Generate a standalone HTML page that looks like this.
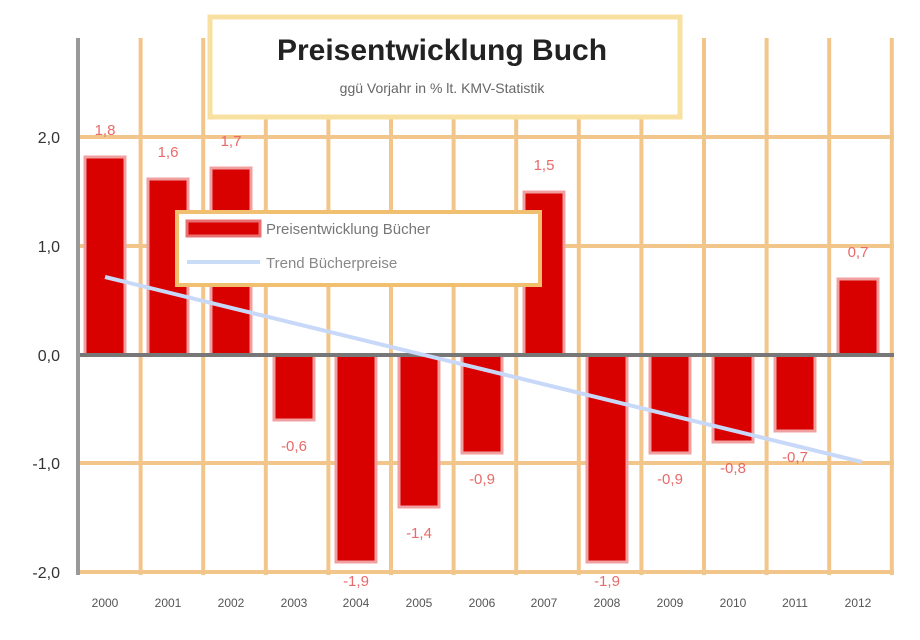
<!DOCTYPE html>
<html><head><meta charset="utf-8"><style>
html,body{margin:0;padding:0;background:#fff}
svg{display:block}
text{font-family:"Liberation Sans",sans-serif}
</style></head><body>
<svg width="920" height="640" xmlns="http://www.w3.org/2000/svg">
<rect width="920" height="640" fill="#fff"/>
<g stroke="#f2c58a" stroke-width="4">
<line x1="140.6" y1="38" x2="140.6" y2="575"/><line x1="203.2" y1="38" x2="203.2" y2="575"/>
<line x1="265.8" y1="38" x2="265.8" y2="575"/><line x1="328.4" y1="38" x2="328.4" y2="575"/>
<line x1="391" y1="38" x2="391" y2="575"/><line x1="453.6" y1="38" x2="453.6" y2="575"/>
<line x1="516.2" y1="38" x2="516.2" y2="575"/><line x1="578.8" y1="38" x2="578.8" y2="575"/>
<line x1="641.4" y1="38" x2="641.4" y2="575"/><line x1="704" y1="38" x2="704" y2="575"/>
<line x1="766.6" y1="38" x2="766.6" y2="575"/><line x1="829.2" y1="38" x2="829.2" y2="575"/>
<line x1="891.8" y1="38" x2="891.8" y2="575"/>
<line x1="78" y1="137" x2="894" y2="137"/><line x1="78" y1="246" x2="894" y2="246"/>
<line x1="78" y1="463" x2="894" y2="463"/><line x1="78" y1="572" x2="894" y2="572"/>
</g>
<g fill="#d90000" stroke="#f0a0a0" stroke-width="3">
<rect x="85" y="157" width="40" height="198"/>
<rect x="148" y="179" width="40" height="176"/>
<rect x="211" y="168" width="40" height="187"/>
<rect x="274" y="355" width="40" height="65"/>
<rect x="336" y="355" width="40" height="207"/>
<rect x="399" y="355" width="40" height="152"/>
<rect x="462" y="355" width="40" height="98"/>
<rect x="524" y="192" width="40" height="163"/>
<rect x="587" y="355" width="40" height="207"/>
<rect x="650" y="355" width="40" height="98"/>
<rect x="713" y="355" width="40" height="87"/>
<rect x="775" y="355" width="40" height="76"/>
<rect x="838" y="279" width="40" height="76"/>
</g>
<line x1="78" y1="355" x2="894" y2="355" stroke="#777" stroke-width="4"/>
<line x1="78" y1="38" x2="78" y2="575" stroke="#999" stroke-width="4"/>
<line x1="105" y1="277" x2="862" y2="462" stroke="#c8d8f8" stroke-width="4"/>
<g fill="#e86a6a" font-size="15" text-anchor="middle">
<text x="105" y="135">1,8</text><text x="168" y="157">1,6</text><text x="231" y="146">1,7</text>
<text x="294" y="451">-0,6</text><text x="356" y="586">-1,9</text><text x="419" y="538">-1,4</text>
<text x="482" y="484">-0,9</text><text x="544" y="170">1,5</text><text x="607" y="586">-1,9</text>
<text x="670" y="484">-0,9</text><text x="733" y="473">-0,8</text><text x="795" y="462">-0,7</text>
<text x="858" y="257">0,7</text>
</g>
<g fill="#333" font-size="16" text-anchor="end">
<text x="60" y="143">2,0</text><text x="60" y="252">1,0</text><text x="60" y="361">0,0</text>
<text x="60" y="469">-1,0</text><text x="60" y="578">-2,0</text>
</g>
<g fill="#555" font-size="12" text-anchor="middle">
<text x="105" y="607">2000</text><text x="168" y="607">2001</text><text x="231" y="607">2002</text>
<text x="294" y="607">2003</text><text x="356" y="607">2004</text><text x="419" y="607">2005</text>
<text x="482" y="607">2006</text><text x="544" y="607">2007</text><text x="607" y="607">2008</text>
<text x="670" y="607">2009</text><text x="733" y="607">2010</text><text x="795" y="607">2011</text>
<text x="858" y="607">2012</text>
</g>
<rect x="210" y="17" width="470" height="100" fill="#fff" stroke="#f8e0a0" stroke-width="5"/>
<text x="442" y="60" font-size="30" font-weight="bold" fill="#222" text-anchor="middle">Preisentwicklung Buch</text>
<text x="442" y="93" font-size="14" fill="#666" text-anchor="middle">ggü Vorjahr in % lt. KMV-Statistik</text>
<rect x="177" y="212" width="363" height="73" fill="#fff" stroke="#f0c070" stroke-width="4"/>
<rect x="187" y="221" width="73" height="15" fill="#d90000" stroke="#e87070" stroke-width="3"/>
<line x1="187" y1="262" x2="260" y2="262" stroke="#c8dcf8" stroke-width="4"/>
<text x="266" y="234" font-size="15" fill="#777">Preisentwicklung Bücher</text>
<text x="266" y="268" font-size="15" fill="#888">Trend Bücherpreise</text>
</svg>
</body></html>
